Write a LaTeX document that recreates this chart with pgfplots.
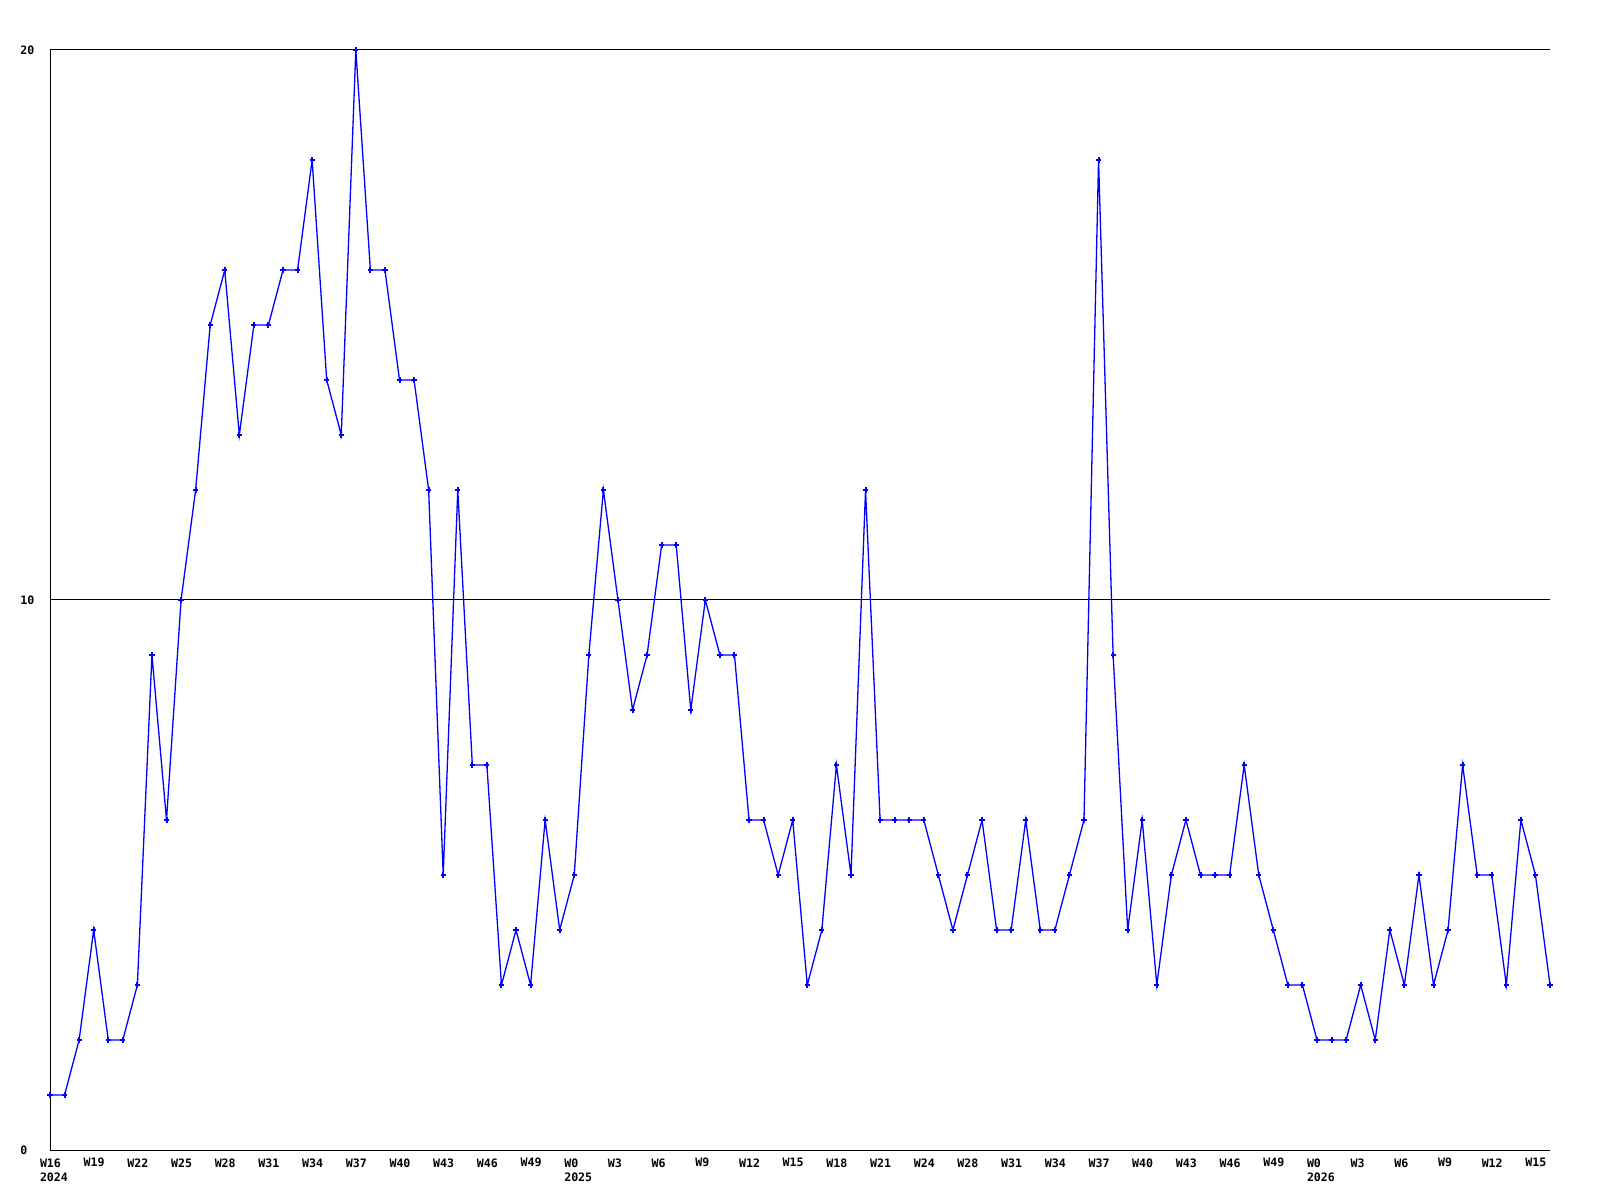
\documentclass[border=0pt]{standalone}
\usepackage{pgfplots}
\pgfplotsset{compat=1.18}
\usepackage{pgfplotstable}
\usepackage{fontspec}
\setmainfont{DejaVu Sans Mono}
\pgfplotstableread{
v
1
1
2
4
2
2
3
9
6
10
12
15
16
13
15
15
16
16
18
14
13
20
16
16
14
14
12
5
12
7
7
3
4
3
6
4
5
9
12
10
8
9
11
11
8
10
9
9
6
6
5
6
3
4
7
5
12
6
6
6
6
5
4
5
6
4
4
6
4
4
5
6
18
9
4
6
3
5
6
5
5
5
7
5
4
3
3
2
2
2
3
2
4
3
5
3
4
7
5
5
3
6
5
3
}\datatable
\newcommand{\tickfont}{\bfseries\fontsize{5.8pt}{7.4pt}\selectfont}
\begin{document}
\begin{tikzpicture}[x=1pt,y=1pt]
\path[use as bounding box] (0,0) rectangle (800,600);
\begin{axis}[
  at={(25pt,25pt)}, anchor=south west, scale only axis,
  width=750pt, height=550pt,
  xmin=0, xmax=103, ymin=0, ymax=20,
  axis x line*=bottom, axis y line*=left,
  axis line style={-, black, line width=0.5pt},
  ytick={0,10,20}, ymajorgrids,
  grid style={black, line width=0.5pt},
  xtick={0,3,...,102},
  xticklabels={{W16\\2024},W19,W22,W25,W28,W31,W34,W37,W40,W43,W46,W49,{W0\\2025},W3,W6,W9,W12,W15,W18,W21,W24,W28,W31,W34,W37,W40,W43,W46,W49,{W0\\2026},W3,W6,W9,W12,W15},
  major tick length=0pt,
  xticklabel style={anchor=north west, align=left, inner sep=0pt, xshift=-5.2pt, yshift=-4pt, font=\tickfont},
  yticklabel style={anchor=west, inner sep=0pt, xshift=-15pt, font=\tickfont},
  /pgf/number format/assume math mode=true,
  clip=false,
]
\addplot[color={rgb,255:red,0;green,0;blue,255}, line width=0.65pt, mark=+, mark size=1.3pt, mark options={line width=1pt}]
  table[x expr=\coordindex, y=v] {\datatable};
\end{axis}
\end{tikzpicture}
\end{document}
